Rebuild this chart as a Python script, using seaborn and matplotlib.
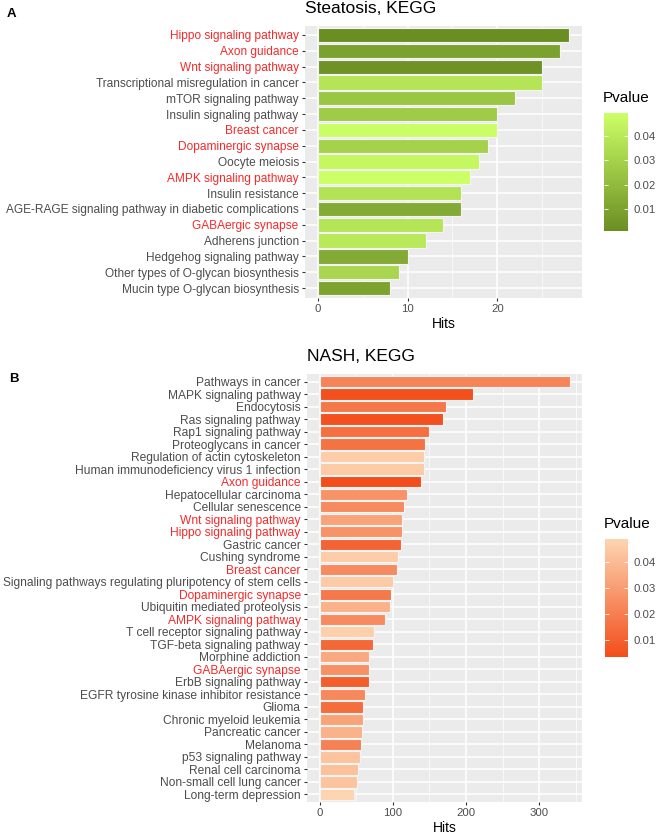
import numpy as np
import pandas as pd
import seaborn as sns
import matplotlib.pyplot as plt
from matplotlib.colors import LinearSegmentedColormap, Normalize
from matplotlib.cm import ScalarMappable
from matplotlib.ticker import MultipleLocator

# Steatosis, KEGG
steatosis_terms = ['Hippo signaling pathway', 'Axon guidance', 'Wnt signaling pathway',
                   'Transcriptional misregulation in cancer', 'mTOR signaling pathway',
                   'Insulin signaling pathway', 'Breast cancer', 'Dopaminergic synapse',
                   'Oocyte meiosis', 'AMPK signaling pathway', 'Insulin resistance',
                   'AGE-RAGE signaling pathway in diabetic complications', 'GABAergic synapse',
                   'Adherens junction', 'Hedgehog signaling pathway',
                   'Other types of O-glycan biosynthesis', 'Mucin type O-glycan biosynthesis']
steatosis_hits = [28, 27, 25, 25, 22, 20, 20, 19, 18, 17, 16, 16, 14, 12, 10, 9, 8]
steatosis_pval = [0.001, 0.009, 0.003, 0.038, 0.025, 0.027, 0.049, 0.030, 0.046, 0.0495,
                  0.037, 0.013, 0.038, 0.040, 0.013, 0.032, 0.010]

# NASH, KEGG
nash_terms = ['Pathways in cancer', 'MAPK signaling pathway', 'Endocytosis', 'Ras signaling pathway',
              'Rap1 signaling pathway', 'Proteoglycans in cancer', 'Regulation of actin cytoskeleton',
              'Human immunodeficiency virus 1 infection', 'Axon guidance', 'Hepatocellular carcinoma',
              'Cellular senescence', 'Wnt signaling pathway', 'Hippo signaling pathway',
              'Gastric cancer', 'Cushing syndrome', 'Breast cancer',
              'Signaling pathways regulating pluripotency of stem cells', 'Dopaminergic synapse',
              'Ubiquitin mediated proteolysis', 'AMPK signaling pathway',
              'T cell receptor signaling pathway', 'TGF-beta signaling pathway', 'Morphine addiction',
              'GABAergic synapse', 'ErbB signaling pathway',
              'EGFR tyrosine kinase inhibitor resistance', 'Glioma', 'Chronic myeloid leukemia',
              'Pancreatic cancer', 'Melanoma', 'p53 signaling pathway', 'Renal cell carcinoma',
              'Non-small cell lung cancer', 'Long-term depression']
nash_hits = [341, 209, 172, 168, 149, 144, 142, 142, 138, 119, 115, 112, 112, 111, 107, 106,
             100, 97, 96, 89, 75, 73, 68, 68, 68, 62, 60, 59, 58, 57, 55, 53, 51, 47]
nash_pval = [0.022, 0.0045, 0.018, 0.005, 0.015, 0.016, 0.046, 0.045, 0.0035, 0.027,
             0.024, 0.032, 0.027, 0.011, 0.046, 0.024, 0.045, 0.018, 0.037, 0.024,
             0.047, 0.012, 0.034, 0.026, 0.009, 0.023, 0.014, 0.032, 0.037, 0.021,
             0.043, 0.042, 0.043, 0.0488]

# terms highlighted in red
highlight = ['Hippo signaling pathway', 'Axon guidance', 'Wnt signaling pathway', 'Breast cancer',
             'Dopaminergic synapse', 'AMPK signaling pathway', 'GABAergic synapse']

W, H = 660, 836


def rect(l, t, r, b):
    return [l / W, 1 - b / H, (r - l) / W, (b - t) / H]


def draw_panel(fig, ax_rect, cb_rect, terms, hits, pval, low, high, title, letter, letter_y, fs,
               major, minor):
    df = pd.DataFrame({'Term': terms, 'Hits': hits, 'Pvalue': pval})
    cmap = LinearSegmentedColormap.from_list('pv', [low, high])
    norm = Normalize(df['Pvalue'].min(), df['Pvalue'].max())
    colors = {t: cmap(norm(p)) for t, p in zip(df['Term'], df['Pvalue'])}

    ax = fig.add_axes(rect(*ax_rect))
    ax.set_facecolor('#EBEBEB')
    ax.set_axisbelow(True)
    sns.barplot(data=df, x='Hits', y='Term', hue='Term', palette=colors, legend=False,
                width=0.9, saturation=1, edgecolor='#F4F4F4', linewidth=0.8, ax=ax)
    ax.xaxis.set_major_locator(MultipleLocator(major))
    ax.xaxis.set_minor_locator(MultipleLocator(minor))
    ax.grid(True, which='major', color='white', lw=1.1)
    ax.grid(True, which='minor', axis='x', color='white', lw=0.5)

    n = len(terms)
    mx = max(hits)
    ax.set_xlim(-0.05 * mx, 1.05 * mx)
    ax.set_ylim(n - 1 + 0.6, -0.6)
    for s in ax.spines.values():
        s.set_visible(False)
    ax.tick_params(axis='both', length=2.5, width=0.8, color='#333333', labelcolor='#4D4D4D')
    ax.tick_params(axis='x', labelsize=8.2, pad=2)
    ax.tick_params(axis='y', labelsize=fs, pad=2)
    ax.tick_params(axis='x', which='minor', length=0)
    for lab in ax.get_yticklabels():
        if lab.get_text() in highlight:
            lab.set_color('#F52A2A')
    ax.set_ylabel('')
    ax.set_xlabel('Hits', fontsize=10, color='black', labelpad=2)
    ax.set_title(title, loc='left', fontsize=12.5, color='black', pad=9)
    fig.text(ax_rect[0] / W - 0.452, 1 - letter_y / H, letter, fontsize=9.5, fontweight='bold',
             va='top', ha='left')

    cax = fig.add_axes(rect(*cb_rect))
    cb = fig.colorbar(ScalarMappable(norm=norm, cmap=cmap), cax=cax)
    cb.outline.set_visible(False)
    cb.set_ticks([0.01, 0.02, 0.03, 0.04])
    cax.tick_params(length=3, width=0.6, color='white', direction='in', labelsize=8.2,
                    labelcolor='#4D4D4D', left=True, pad=4)
    cax.set_title('Pvalue', loc='left', fontsize=11, pad=8, x=-0.05)
    return ax


plt.rcParams['font.family'] = ['Liberation Sans', 'DejaVu Sans']
fig = plt.figure(figsize=(6.6, 8.36), dpi=100)

draw_panel(fig, (305, 25.5, 582, 297.5), (604, 113, 628, 231), steatosis_terms, steatosis_hits,
           steatosis_pval, '#6B8E23', '#CCFF66', 'Steatosis, KEGG', 'A', 8, 8.6, 10, 5)
draw_panel(fig, (307, 374, 582, 802), (605, 539, 628, 657), nash_terms, nash_hits, nash_pval,
           '#F24D1A', '#FDD5B1', 'NASH, KEGG', 'B', 373, 8.65, 100, 50)

fig.savefig('out.png', dpi=100)
